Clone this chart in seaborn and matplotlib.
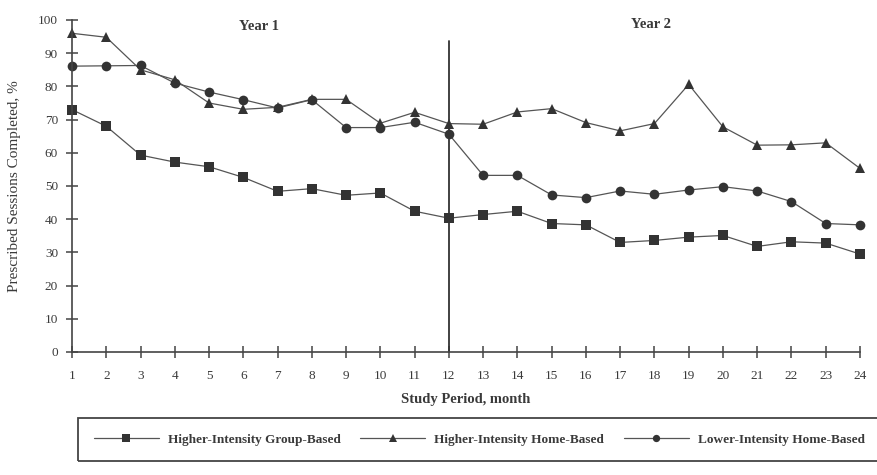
import matplotlib
matplotlib.use("Agg")
import matplotlib.pyplot as plt
from matplotlib.patches import Rectangle
import numpy as np
import pandas as pd
import seaborn as sns

months = list(range(1, 25))

group_based = [73, 68, 59.3, 57.2, 55.8, 52.6, 48.4, 49.2, 47.2, 47.9, 42.4, 40.3,
               41.4, 42.4, 38.7, 38.3, 33.0, 33.6, 34.6, 35.1, 31.8, 33.2, 32.8, 29.5]
home_high = [96, 94.8, 85, 82, 75, 73.1, 73.7, 76.1, 76.1, 68.9, 72.2, 68.8,
             68.6, 72.3, 73.3, 69.1, 66.6, 68.8, 80.6, 67.8, 62.3, 62.4, 63.0, 55.3]
home_low = [86.1, 86.2, 86.3, 81, 78.3, 76, 73.5, 76, 67.6, 67.6, 69.2, 65.6,
            53.2, 53.2, 47.3, 46.5, 48.5, 47.5, 48.8, 49.8, 48.5, 45.3, 38.7, 38.3]

series_names = ["Higher-Intensity Group-Based",
                "Higher-Intensity Home-Based",
                "Lower-Intensity Home-Based"]
year_labels = ["Year 1", "Year 2"]
y_ticks = list(range(0, 101, 10))

df = pd.DataFrame({
    "month": months * 3,
    "pct": group_based + home_high + home_low,
    "program": [series_names[0]] * 24 + [series_names[1]] * 24 + [series_names[2]] * 24,
})

sns.set_theme(style="white")
plt.rcParams["font.family"] = ["Liberation Serif", "DejaVu Serif"]
ink = "#3a3a3a"

fig = plt.figure(figsize=(8.77, 4.75), dpi=100)
ax = fig.add_axes([72 / 877, 1 - 352 / 475, (860 - 72) / 877, (352 - 20) / 475])

sns.lineplot(
    data=df, x="month", y="pct", hue="program", style="program",
    hue_order=series_names, style_order=series_names,
    palette=[ink, ink, ink],
    markers={series_names[0]: "s", series_names[1]: "^", series_names[2]: "o"},
    dashes=False, markersize=7, linewidth=0.9, markeredgewidth=0,
    ax=ax, clip_on=False,
)
for ln in ax.lines:
    ln.set_color("#555555")
    ln.set_markerfacecolor("#333333")

handles, labels = ax.get_legend_handles_labels()
ax.get_legend().remove()

# divider between study years
ax.plot([12, 12], [0, 93.7], color="#333333", lw=1.3, clip_on=False)

ax.text(6.45, 98, year_labels[0], ha="center", va="center",
        fontsize=10.5, fontweight="bold", color=ink)
ax.text(17.9, 98.6, year_labels[1], ha="center", va="center",
        fontsize=10.5, fontweight="bold", color=ink)

ax.set_xlim(1, 24)
ax.set_ylim(0, 100)
ax.set_xticks(months)
ax.set_yticks(y_ticks)
ax.tick_params(axis="both", direction="inout", length=8, width=1.1,
               color="#444444", labelcolor=ink, labelsize=9.5, bottom=True, left=True)
ax.tick_params(axis="x", pad=9)
ax.tick_params(axis="y", pad=6)
for side in ("top", "right"):
    ax.spines[side].set_visible(False)
for side in ("left", "bottom"):
    ax.spines[side].set_color("#444444")
    ax.spines[side].set_linewidth(1.2)

ax.set_xlabel("Study Period, month", fontsize=10.5, fontweight="bold", color=ink, labelpad=8)
ax.set_ylabel("Prescribed Sessions Completed, %", fontsize=11, color=ink, labelpad=12)

# legend strip below the plot
fig.patches.append(Rectangle((78 / 877, 1 - 461 / 475), 1.0, 43 / 475,
                             transform=fig.transFigure, fill=False,
                             edgecolor="#444444", linewidth=1.3))
leg = fig.legend(handles, labels, loc="center left",
                 bbox_to_anchor=(82 / 877, 1 - 439.5 / 475), ncol=3, frameon=False,
                 handlelength=4.9, handletextpad=0.7, columnspacing=1.5,
                 markerscale=0.75,
                 prop={"family": "Liberation Serif", "weight": "bold", "size": 9.5})
for t in leg.get_texts():
    t.set_color(ink)

fig.savefig("out.png", dpi=100, facecolor="white")
